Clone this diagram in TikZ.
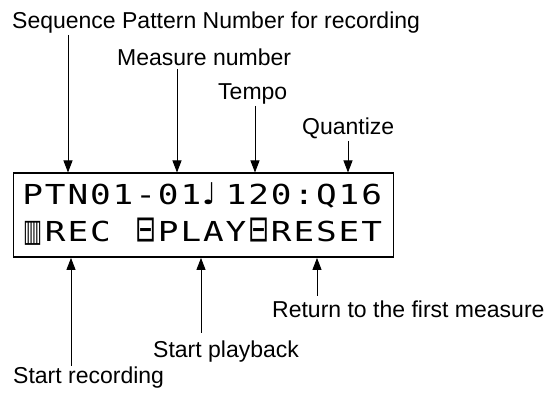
\documentclass[tikz,border=0pt]{standalone}
\usepackage{graphicx}
\usepackage{fontspec}
\setmainfont{Liberation Sans}
\newfontfamily\lcdfont[FakeStretch=1.25]{DejaVu Sans Mono}
\newfontfamily\symfont{DejaVu Sans}
\usetikzlibrary{arrows.meta}
\newcommand\lc[1]{\makebox[22.6pt][c]{#1}}
\newcommand\lcl[2]{\makebox[22.6pt][l]{\hspace{#1}#2}}
\newcommand\keyA{\lc{\resizebox*{19pt}{24pt}{\symfont ▥}}}
\newcommand\keyB{\lc{\resizebox*{21pt}{24pt}{\symfont ⊟}}}
\begin{document}
\begin{tikzpicture}[x=1pt,y=-1pt,
  lbl/.style={inner sep=0pt, anchor=base west, font=\fontsize{23}{27}\selectfont},
  lcd/.style={inner sep=0pt, anchor=base west, font=\lcdfont\fontsize{27.5}{30}\selectfont},
  arr/.style={line width=0.9pt, -{Triangle[length=12pt,width=9pt]}},
  lcdbox/.style={draw, line width=1.4pt, inner sep=0pt, anchor=north west, minimum width=380pt, minimum height=84pt}]
\useasboundingbox (0,0) rectangle (552,395);
% display
\node[lcdbox] (box) at (12.7,172.5) {};
\node[lcd] (l1) at (21.2,205) {\lc{P}\lc{T}\lc{N}\lc{0}\lc{1}\lc{-}\lc{0}\lc{1}\lcl{0pt}{\symfont\fontsize{30}{30}\selectfont ♩}\lc{1}\lc{2}\lc{0}\lc{:}\lc{Q}\lc{1}\lc{6}};
\node[lcd] (l2) at (21.2,242) {\keyA\lc{R}\lc{E}\lc{C}\lc{}\keyB\lc{P}\lc{L}\lc{A}\lc{Y}\keyB\lc{R}\lc{E}\lc{S}\lc{E}\lc{T}};
% labels
\node[lbl] (seq) at (12,29) {Sequence Pattern Number for recording};
\node[lbl] (meas) at (117,66) {Measure number};
\node[lbl] (tempo) at (218,100) {Tempo};
\node[lbl] (quant) at (302,135) {Quantize};
\node[lbl] (ret) at (272,318) {Return to the first measure};
\node[lbl] (play) at (153,358) {Start playback};
\node[lbl] (rec) at (13,384) {Start recording};
% arrows down
\coordinate (a1) at (68,35);
\coordinate (a2) at (177,69);
\coordinate (a3) at (255,106);
\coordinate (a4) at (348,141);
\foreach \c in {a1,a2,a3,a4} \draw[arr] (\c) -- (\c |- box.north);
% arrows up
\coordinate (b1) at (71,366);
\coordinate (b2) at (201,333);
\coordinate (b3) at (317,296);
\foreach \c in {b1,b2,b3} \draw[arr] (\c) -- (\c |- box.south);
\end{tikzpicture}
\end{document}
